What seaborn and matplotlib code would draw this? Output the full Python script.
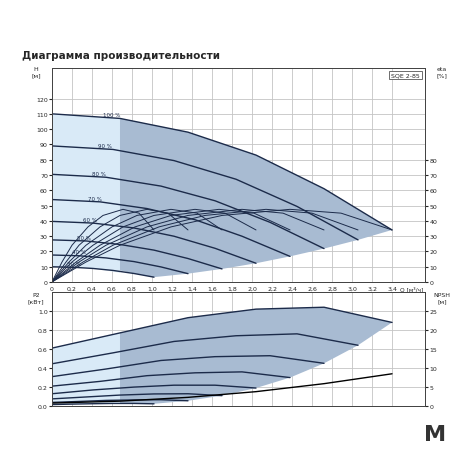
import matplotlib
matplotlib.use("Agg")
import matplotlib.pyplot as plt
import seaborn as sns
import numpy as np

# ---- data ----
speeds = ["100 %", "90 %", "80 %", "70 %", "60 %", "50 %", "40 %", "30 %"]

q_h = [
    [0, 0.68, 1.36, 2.04, 2.72, 3.4],
    [0, 0.61, 1.22, 1.84, 2.45, 3.06],
    [0, 0.54, 1.09, 1.63, 2.18, 2.72],
    [0, 0.48, 0.95, 1.43, 1.90, 2.38],
    [0, 0.41, 0.82, 1.22, 1.63, 2.04],
    [0, 0.34, 0.68, 1.02, 1.36, 1.70],
    [0, 0.27, 0.54, 0.82, 1.09, 1.36],
    [0, 0.20, 0.41, 0.61, 0.82, 1.02],
]
head = [
    [110, 107, 98, 83, 61, 34],
    [89, 86.7, 79.4, 67.2, 49.4, 27.5],
    [70.4, 68.5, 62.7, 53.1, 39, 21.8],
    [53.9, 52.4, 48, 40.7, 29.9, 16.7],
    [39.6, 38.5, 35.3, 29.9, 22, 12.2],
    [27.5, 26.8, 24.5, 20.8, 15.3, 8.5],
    [17.6, 17.1, 15.7, 13.3, 9.8, 5.4],
    [9.9, 9.6, 8.8, 7.5, 5.5, 3.1],
]
q_eta = [
    [0, 0.34, 0.68, 1.19, 1.70, 2.38, 2.89, 3.40],
    [0, 0.31, 0.61, 1.07, 1.53, 2.14, 2.60, 3.06],
    [0, 0.27, 0.54, 0.95, 1.36, 1.90, 2.31, 2.72],
    [0, 0.24, 0.48, 0.83, 1.19, 1.67, 2.02, 2.38],
    [0, 0.20, 0.41, 0.71, 1.02, 1.43, 1.73, 2.04],
    [0, 0.17, 0.34, 0.60, 0.85, 1.19, 1.45, 1.70],
    [0, 0.14, 0.27, 0.48, 0.68, 0.95, 1.16, 1.36],
    [0, 0.10, 0.20, 0.36, 0.51, 0.71, 0.87, 1.02],
]
eta = [0, 13, 24, 36, 43.5, 47.5, 45, 34]
power = [
    [0.61, 0.77, 0.93, 1.02, 1.04, 0.88],
    [0.445, 0.56, 0.68, 0.74, 0.76, 0.64],
    [0.31, 0.39, 0.48, 0.52, 0.53, 0.45],
    [0.21, 0.26, 0.32, 0.35, 0.36, 0.30],
    [0.13, 0.17, 0.20, 0.22, 0.22, 0.19],
    [0.076, 0.096, 0.116, 0.128, 0.13, 0.11],
    [0.039, 0.049, 0.06, 0.065, 0.067, 0.056],
    [0.016, 0.021, 0.025, 0.028, 0.028, 0.024],
]
q_npsh = [0, 0.68, 1.36, 2.04, 2.72, 3.4]
npsh = [0.8, 1.3, 2.3, 3.8, 5.9, 8.5]

sns.set_style("white")
plt.rcParams["font.family"] = ["DejaVu Sans"]

line_c = "#1c2b4a"
dark_fill = "#a8bbd2"
light_fill = "#d9eaf7"
grid_c = "#c4c4c4"

fig = plt.figure(figsize=(4.6, 4.6), dpi=100)
ax = fig.add_axes([0.113, 0.385, 0.811, 0.465])
axp = fig.add_axes([0.113, 0.115, 0.811, 0.248])

fig.text(0.048, 0.872, "Диаграмма производительности", fontsize=7.5, fontweight="bold")

# ---- shaded regions (top) ----
end_q = [q[-1] for q in q_h]
end_h = [h[-1] for h in head]
ax.fill([0, 0.68, 0.68, 0.41, 0.2, 0], [110, 107, 6.0, 8.8, 9.6, 9.9],
        color=light_fill, lw=0)
ax.fill([0.68, 1.36, 2.04, 2.72, 3.4] + end_q[1:] + [0.82, 0.68],
        [107, 98, 83, 61, 34] + end_h[1:] + [5.5, 7.5],
        color=dark_fill, lw=0)

for i, s in enumerate(speeds):
    sns.lineplot(x=q_h[i], y=head[i], ax=ax, color=line_c, lw=1.0, sort=False)
    sns.lineplot(x=q_eta[i], y=eta, ax=ax, color=line_c, lw=0.7, sort=False)
    ax.text(q_h[i][1] * 0.75, head[i][1] + 1.5, s, fontsize=4, color=line_c)

ax.set_xlim(0, 3.73)
ax.set_ylim(0, 140)
ax.set_xticks(np.arange(0, 3.41, 0.2))
ax.set_xticklabels([f"{v:.1f}".replace(".", ",") if v > 0 else "0" for v in np.arange(0, 3.41, 0.2)])
ax.set_yticks(range(0, 121, 10))
ax.grid(True, color=grid_c, lw=0.6)
ax.set_axisbelow(True)
ax.tick_params(labelsize=4.5, length=2, pad=1)
ax.text(-0.16, 141, "H\n[м]", fontsize=4.5, ha="center", va="top")
ax.text(3.6, -2.5, "Q [м³/ч]", fontsize=4.2, ha="center", va="top")
ax.text(3.68, 137, "SQE 2-85", fontsize=4.5, ha="right", va="top",
        bbox=dict(boxstyle="square,pad=0.3", fc="white", ec="#555555", lw=0.6))
axr = ax.twinx()
axr.set_ylim(0, 140)
axr.set_yticks(range(0, 81, 10))
axr.tick_params(labelsize=4.5, length=2, pad=1)
axr.text(3.9, 141, "eta\n[%]", fontsize=4.5, ha="center", va="top")

# ---- power / NPSH ----
pe_q = [q[-1] for q in q_h]
pe_p = [p[-1] for p in power]
axp.fill([0, 0.68, 0.68, 0.41, 0.2, 0], [0.61, 0.77, 0.028, 0.025, 0.021, 0.016],
         color=light_fill, lw=0)
axp.fill([0.68, 1.36, 2.04, 2.72, 3.4] + pe_q[1:] + [0.82, 0.68],
         [0.77, 0.93, 1.02, 1.04, 0.88] + pe_p[1:] + [0.028, 0.028],
         color=dark_fill, lw=0)
for i in range(len(speeds)):
    sns.lineplot(x=q_h[i], y=power[i], ax=axp, color=line_c, lw=1.0, sort=False)
sns.lineplot(x=q_npsh, y=[v / 25 for v in npsh], ax=axp, color="black", lw=1.0, sort=False)
axp.set_xlim(0, 3.73)
axp.set_ylim(0, 1.2)
axp.set_xticks(np.arange(0, 3.41, 0.2))
axp.set_xticklabels([])
axp.set_yticks(np.arange(0, 1.01, 0.2))
axp.set_yticklabels([f"{v:.1f}" for v in np.arange(0, 1.01, 0.2)])
axp.grid(True, color=grid_c, lw=0.6)
axp.set_axisbelow(True)
axp.tick_params(labelsize=4.5, length=2, pad=1)
axp.text(-0.16, 1.2, "P2\n[кВт]", fontsize=4.5, ha="center", va="top")
axpr = axp.twinx()
axpr.set_ylim(0, 30)
axpr.set_yticks(range(0, 26, 5))
axpr.tick_params(labelsize=4.5, length=2, pad=1)
axpr.text(3.9, 30, "NPSH\n[м]", fontsize=4.5, ha="center", va="top")

for a in (ax, axr, axp, axpr):
    for sp in a.spines.values():
        sp.set_color("#444444")
        sp.set_linewidth(0.7)

# logo
fig.text(0.945, 0.055, "M", fontsize=16, fontweight="bold", color="#333333", ha="center", va="center")

fig.savefig("out.png", dpi=100)
